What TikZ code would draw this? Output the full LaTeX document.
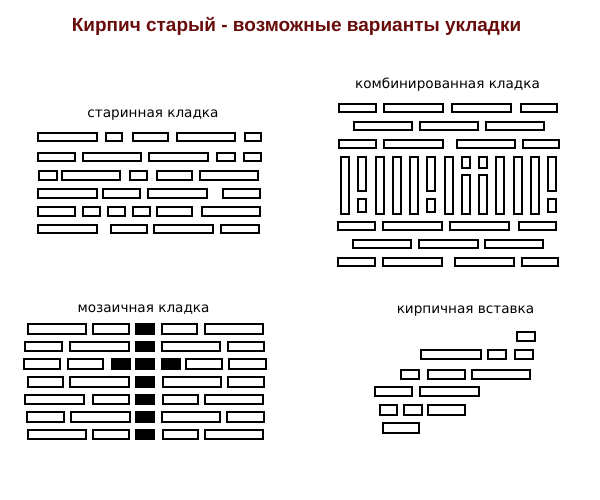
\documentclass[tikz,border=0pt]{standalone}
\usepackage{fontspec}
\setmainfont{Liberation Sans}
\newfontfamily\labelfont{DejaVu Sans}
\definecolor{headred}{RGB}{104,12,12}

\begin{document}
\begin{tikzpicture}[x=1pt, y=-1pt,
  brick/.style={draw, line width=2pt, fill=white},
  blackbrick/.style={draw, line width=2pt, fill=black},
  heading/.style={anchor=base, inner sep=0pt, font=\labelfont\fontsize{13.6}{16}\selectfont},
  maintitle/.style={anchor=base, inner sep=0pt, text=headred, font=\bfseries\fontsize{19}{22}\selectfont}
]
\useasboundingbox[fill=white] (0,0) rectangle (600,500);

\node[maintitle] (title) at (296.5,31.5) {Кирпич старый - возможные варианты укладки};

% старинная кладка
\node[heading] (oldhead) at (153,118) {старинная кладка};
\foreach \yc/\row in {137/{38/97,106/122,133/168,177/235,245/261},
                      157/{38/75,83/141,149/208,217/235,244/261},
                      175.5/{39/57,62/120,130/147,157/192,200/258},
                      193.5/{38/97,103/140,148/207,223/260},
                      211.5/{38/75,83/100,108/125,133/150,157/192,202/260},
                      229/{38/97,111/147,154/213,221/259}}
  \foreach \a/\b in \row
    \draw[brick] (\a,\yc-4.3) rectangle (\b,\yc+4.3);

% комбинированная кладка
\node[heading] (combohead) at (447.5,89) {комбинированная кладка};
\foreach \yc/\row in {108/{339/376,384/443,452/511,521/557},
                      126/{354/412,420/478,486/544},
                      144/{339/376,384/443,457/515,523/559},
                      226/{338/375,383/442,450/509,519/556},
                      244/{353/411,419/478,485/543},
                      262/{338/375,383/442,455/514,522/558}}
  \foreach \a/\b in \row
    \draw[brick] (\a,\yc-4.3) rectangle (\b,\yc+4.3);
% stretchers on end
\foreach \i in {0,2,3,4,6,9,10,11}
  \draw[brick] (345+17.25*\i-4,157) rectangle (345+17.25*\i+4,214);
\foreach \i in {1,5,12} {
  \draw[brick] (345+17.25*\i-4,157) rectangle (345+17.25*\i+4,191);
  \draw[brick] (345+17.25*\i-4,199) rectangle (345+17.25*\i+4,212);
}
\foreach \i in {7,8} {
  \draw[brick] (345+17.25*\i-4,157) rectangle (345+17.25*\i+4,168);
  \draw[brick] (345+17.25*\i-4,175.5) rectangle (345+17.25*\i+4,214);
}

% мозаичная кладка
\node[heading] (mosaichead) at (143.5,312) {мозаичная кладка};
\foreach \yc/\row in {329/{28/86,93/129,162/197,205/263},
                      346.6/{25/62,70/129,162/220,228/264},
                      364.2/{24/60,68/103,186/222,229/266},
                      381.8/{28/63,70/129,163/221,228/264},
                      399.4/{25/84,93/129,163/198,205/263},
                      417/{27/64,71/130,162/220,227/264},
                      434.6/{28/86,93/129,163/198,205/263}}
  \foreach \a/\b in \row
    \draw[brick] (\a,\yc-4.8) rectangle (\b,\yc+4.8);
\foreach \yc in {329,346.6,364.2,381.8,399.4,417,434.6}
  \draw[blackbrick] (136,\yc-4.8) rectangle (154,\yc+4.8);
\foreach \a/\b in {112/130,162/180}
  \draw[blackbrick] (\a,364.2-4.8) rectangle (\b,364.2+4.8);

% кирпичная вставка
\node[heading] (inserthead) at (465.5,313.5) {кирпичная вставка};
\foreach \yc/\row in {336.5/{517/535},
                      354.5/{421/481,488/506,515/533},
                      374.5/{401/419,428/465,472/530},
                      391.5/{375/412,420/479},
                      410/{380/397,404/422,428/465},
                      428/{383/419}}
  \foreach \a/\b in \row
    \draw[brick] (\a,\yc-4.6) rectangle (\b,\yc+4.6);
\end{tikzpicture}
\end{document}
